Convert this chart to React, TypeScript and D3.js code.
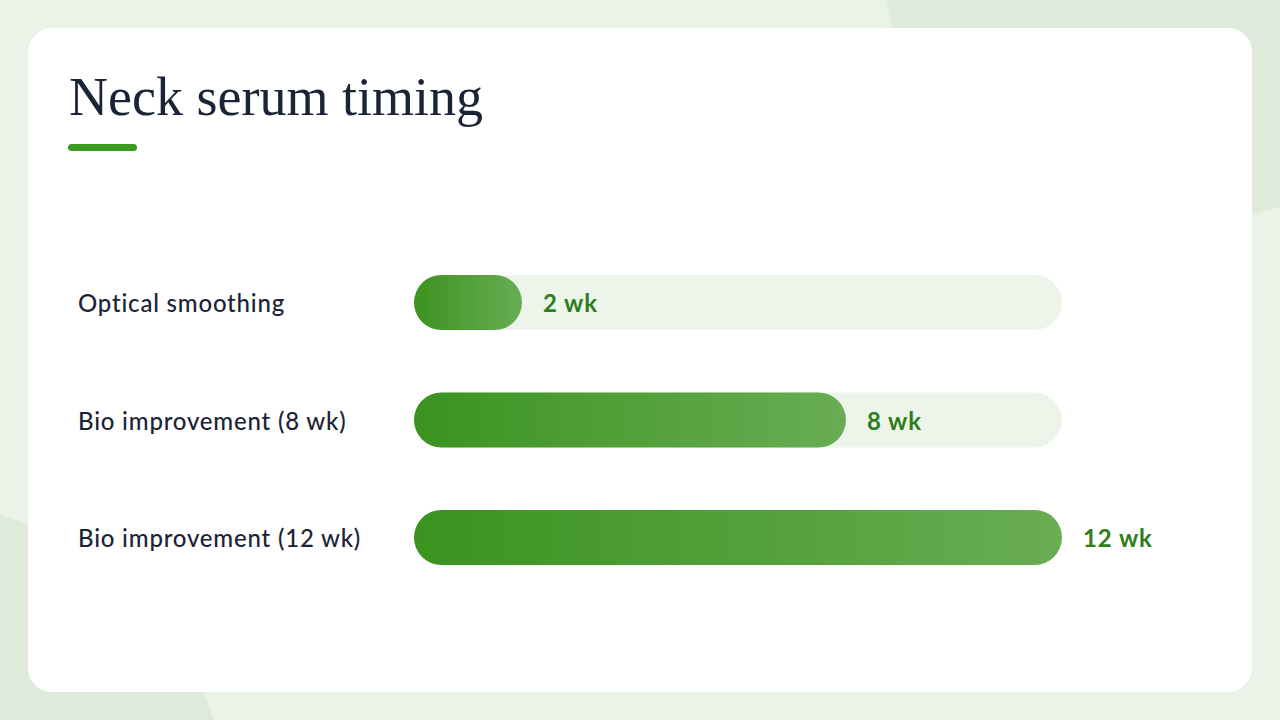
import React from "react";
import * as d3 from "d3";

const categories: string[] = ["Optical smoothing", "Bio improvement (8 wk)", "Bio improvement (12 wk)"];
const values: number[] = [2, 8, 12];
const valueLabels: string[] = ["2 wk", "8 wk", "12 wk"];
const title = "Neck serum timing";
const maxValue = 12;

export default function App() {
  const W = 1280;
  const H = 720;
  const x = d3.scaleLinear().domain([0, maxValue]).range([414, 1062]);
  const y = d3.scalePoint<string>().domain(categories).range([302.5, 537.5]);
  const barH = 55;
  const r = barH / 2;

  return (
    <svg width={W} height={H} style={{ position: "fixed", left: 0, top: 0, display: "block" }}>
      <defs>
        <linearGradient id="barGrad" x1="0" x2="1" y1="0" y2="0">
          <stop offset="0%" stopColor="#3b931f" />
          <stop offset="100%" stopColor="#69ad54" />
        </linearGradient>
      </defs>
      <rect x={0} y={0} width={W} height={H} fill="#ebf3e9" />
      <path d="M886,0 L1280,0 L1280,207 L1200,230 L900,60 Z" fill="#dfebda" />
      <path d="M0,515 L40,528 L204,692 L214,720 L0,720 Z" fill="#dfebda" />
      <rect x={28} y={28} width={1224} height={664} rx={24} ry={24} fill="#ffffff" />

      <text x={69} y={115} fontFamily="'Liberation Serif', 'DejaVu Serif', serif" fontSize={54} fill="#1b2436">
        {title}
      </text>
      <rect x={68} y={144} width={69} height={7} rx={3.5} fill="#3a9a22" />

      {categories.map((c, i) => {
        const cy = (y(c) as number) + 1.5;
        const by = y(c) as number;
        const x0 = x(0);
        return (
          <g key={c}>
            <text
              x={78}
              y={cy}
              dy="0.35em"
              fontFamily="Lato, 'Open Sans', sans-serif"
              fontWeight={500}
              fontSize={24}
              letterSpacing={0.8}
              fill="#1b2436"
            >
              {c}
            </text>
            <rect x={x0} y={by - r} width={x(maxValue) - x0} height={barH} rx={r} ry={r} fill="#edf5eb" />
            <rect x={x0} y={by - r} width={x(values[i]) - x0} height={barH} rx={r} ry={r} fill="url(#barGrad)" />
            <text
              x={x(values[i]) + 21}
              y={cy}
              dy="0.35em"
              fontFamily="Lato, 'Open Sans', sans-serif"
              fontWeight={700}
              fontSize={24}
              letterSpacing={0.9}
              fill="#2e7d1b"
            >
              {valueLabels[i]}
            </text>
          </g>
        );
      })}
    </svg>
  );
}
